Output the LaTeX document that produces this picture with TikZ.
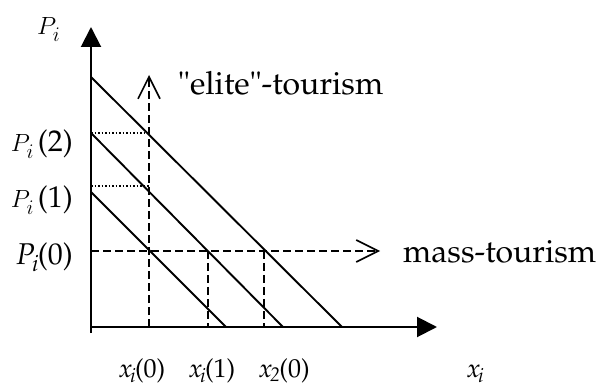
\documentclass[tikz,border=0pt]{standalone}
\usepackage[T1]{fontenc}
\usepackage{mathpazo}
\usetikzlibrary{arrows.meta}
\newcommand\italsub[2]{\textit{#1}\kern-0.08em\textsubscript{\textit{#2}}\kern-0.04em}
\newcommand\cmmit{\fontencoding{OML}\fontfamily{lmm}\fontseries{m}\fontshape{it}\selectfont}
\newcommand\cmmP{{\cmmit P}\raisebox{-0.22em}{\fontsize{20}{22}\cmmit i}}
\begin{document}
\begin{tikzpicture}[x=1pt,y=-1pt,
  lbl/.style={font=\fontsize{32}{36}\selectfont, inner sep=0pt},
  plbl/.style={font=\fontsize{30}{34}\selectfont, inner sep=0pt},
  xlbl/.style={font=\fontsize{26}{30}\selectfont, inner sep=0pt},
  axis/.style={line width=2pt, -{Triangle[length=20pt,width=20pt]}},
  demand/.style={line width=1.9pt},
  dashln/.style={line width=1.8pt, dash pattern=on 8pt off 4pt},
  dotln/.style={line width=1.5pt, dash pattern=on 1.5pt off 2pt},
  barb/.style={-{Straight Barb[length=22pt,width=22pt,line width=1.6pt]}}]
\useasboundingbox[fill=white] (0,0) rectangle (600,390);
% axes
\coordinate (ybot) at (91,333);
\coordinate (O) at (91,327);
\coordinate (ytop) at (91,27);
\coordinate (xend) at (437,327);
\draw[axis] (ybot) -- (ytop);
\draw[axis] (O) -- (xend);
% demand lines
\coordinate (a3) at (91,77);  \coordinate (b3) at (342,327);
\coordinate (a2) at (91,133); \coordinate (b2) at (283,327);
\coordinate (a1) at (91,192); \coordinate (b1) at (226,327);
\draw[demand] (a3) -- (b3);
\draw[demand] (a2) -- (b2);
\draw[demand] (a1) -- (b1);
% elite
\coordinate (e0) at (149,327);
\coordinate (e1) at (149,75);
\draw[dashln,barb] (e0) -- (e1);
% mass
\coordinate (m0) at (91,251);
\coordinate (m1) at (380,251);
\draw[dashln,barb] (m0) -- (m1);
% verticals
\coordinate (v1t) at (208,251); \coordinate (v1b) at (208,327);
\coordinate (v2t) at (264,251); \coordinate (v2b) at (264,327);
\draw[dashln] (v1t) -- (v1b);
\draw[dashln] (v2t) -- (v2b);
% dotted
\coordinate (d2a) at (91,133); \coordinate (d2b) at (149,133);
\coordinate (d1a) at (91,186); \coordinate (d1b) at (149,186);
\draw[dotln] (d2a) -- (d2b);
\draw[dotln] (d1a) -- (d1b);
% labels
\node[plbl, anchor=base west] (lPi) at (37,35) {\cmmP};
\node[plbl, anchor=base east] (lP2) at (73,152) {\cmmP\kern0.14em(2)};
\node[plbl, anchor=base east] (lP1) at (73,208) {\cmmP\kern0.14em(1)};
\node[plbl, anchor=base east] (lP0) at (73,265) {\italsub{P}{i}(0)};
\node[xlbl, anchor=base west] (lx0) at (119,377) {\italsub{x}{i}(0)};
\node[xlbl, anchor=base west] (lx1) at (189,377) {\italsub{x}{i}(1)};
\node[xlbl, anchor=base west] (lx2) at (259,377) {\italsub{x}{2}(0)};
\node[xlbl, anchor=base west] (lxi) at (467,377) {\italsub{x}{i}};
\node[lbl, anchor=base west] (lmass) at (403,263) {mass-tourism};
\node[lbl, anchor=base west] (lelite) at (178,95) {\textquotedbl elite\textquotedbl -tourism};
\end{tikzpicture}
\end{document}
